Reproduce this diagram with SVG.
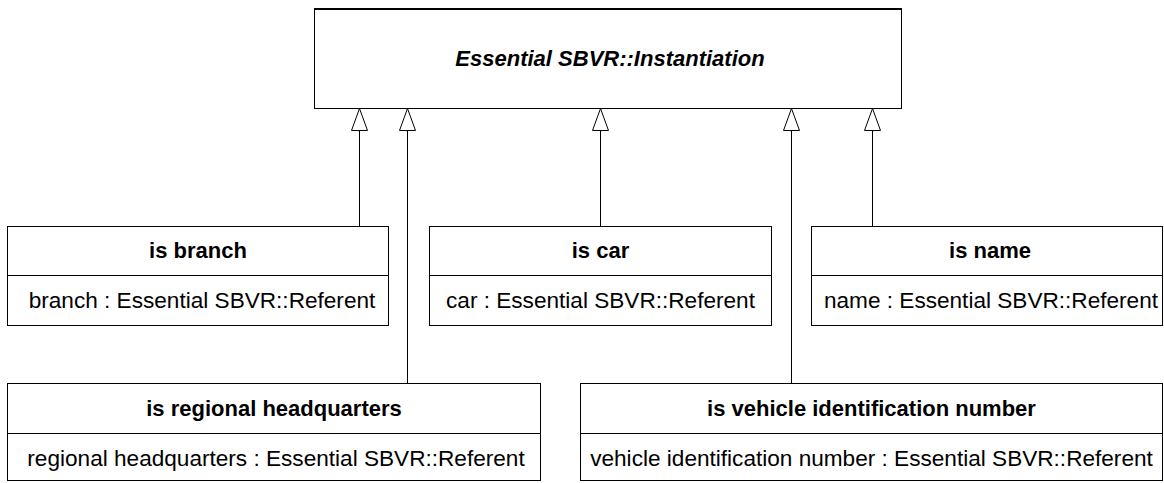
<svg xmlns="http://www.w3.org/2000/svg" width="1164" height="483" viewBox="0 0 1164 483">
<defs>
<style>
.box{fill:#fff;stroke:#000;stroke-width:1}
.sep{stroke:#000;stroke-width:1}
.title{font-family:"Liberation Sans",Arial,sans-serif;font-size:22px;font-weight:bold;text-anchor:middle;fill:#000}
.attr{font-family:"Liberation Sans",Arial,sans-serif;font-size:22.6px;text-anchor:middle;fill:#000}
.conn{fill:none;stroke:#000;stroke-width:1}
.head{fill:#fff;stroke:#000;stroke-width:1}
</style>
</defs>
<rect width="1164" height="483" fill="#fff"/>
<g id="connectors">
<path class="conn" d="M359.5 226 V130.5"/>
<path class="conn" d="M407.5 383 V130.5"/>
<path class="conn" d="M600.5 226 V130.5"/>
<path class="conn" d="M791.5 383 V130.5"/>
<path class="conn" d="M872.5 226 V130.5"/>
<path class="head" d="M359.5 108.5 L367.5 130.5 L351.5 130.5 Z"/>
<path class="head" d="M407.5 108.5 L415.5 130.5 L399.5 130.5 Z"/>
<path class="head" d="M600.5 108.5 L608.5 130.5 L592.5 130.5 Z"/>
<path class="head" d="M791.5 108.5 L799.5 130.5 L783.5 130.5 Z"/>
<path class="head" d="M872.5 108.5 L880.5 130.5 L864.5 130.5 Z"/>
</g>
<g id="instantiation">
<rect class="box" x="314.5" y="9.5" width="587" height="99"/>
<line x1="314" y1="9" x2="902" y2="9" stroke="#000" stroke-width="2"/>
<text class="title" x="610" y="66" font-style="italic">Essential SBVR::Instantiation</text>
</g>
<g id="is-branch">
<rect class="box" x="7.5" y="226.5" width="381" height="99"/>
<line class="sep" x1="7.5" y1="275.5" x2="388.5" y2="275.5"/>
<text class="title" x="198" y="258">is branch</text>
<text class="attr" x="202" y="308">branch : Essential SBVR::Referent</text>
</g>
<g id="is-car">
<rect class="box" x="429.5" y="226.5" width="342" height="99"/>
<line class="sep" x1="429.5" y1="275.5" x2="771.5" y2="275.5"/>
<text class="title" x="600.5" y="258">is car</text>
<text class="attr" x="600.5" y="308">car : Essential SBVR::Referent</text>
</g>
<g id="is-name">
<rect class="box" x="811.5" y="226.5" width="351" height="99"/>
<line class="sep" x1="811.5" y1="275.5" x2="1162.5" y2="275.5"/>
<text class="title" x="990" y="258">is name</text>
<text class="attr" x="991" y="308">name : Essential SBVR::Referent</text>
</g>
<g id="is-regional-headquarters">
<rect class="box" x="7.5" y="383.5" width="533" height="97"/>
<line class="sep" x1="7.5" y1="433.5" x2="540.5" y2="433.5"/>
<text class="title" x="274" y="416">is regional headquarters</text>
<text class="attr" x="276" y="466">regional headquarters : Essential SBVR::Referent</text>
</g>
<g id="is-vehicle-identification-number">
<rect class="box" x="580.5" y="383.5" width="582" height="97"/>
<line class="sep" x1="580.5" y1="433.5" x2="1162.5" y2="433.5"/>
<text class="title" x="871.5" y="416">is vehicle identification number</text>
<text class="attr" x="871.5" y="466">vehicle identification number : Essential SBVR::Referent</text>
</g>
</svg>
